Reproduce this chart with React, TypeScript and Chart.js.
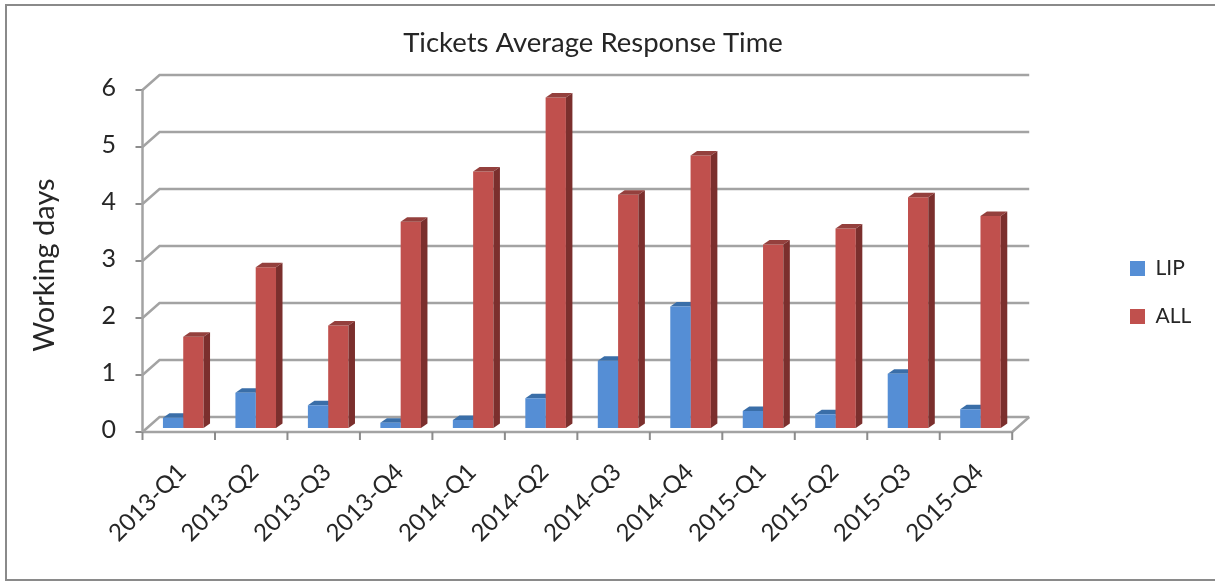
import React, { useEffect, useRef } from "react";
import { Chart, registerables } from "chart.js";

Chart.register(...registerables);

const categories = [
  "2013-Q1", "2013-Q2", "2013-Q3", "2013-Q4",
  "2014-Q1", "2014-Q2", "2014-Q3", "2014-Q4",
  "2015-Q1", "2015-Q2", "2015-Q3", "2015-Q4",
];
const lipValues = [0.18, 0.62, 0.4, 0.09, 0.14, 0.52, 1.18, 2.13, 0.3, 0.24, 0.95, 0.33];
const allValues = [1.6, 2.82, 1.8, 3.62, 4.5, 5.8, 4.09, 4.78, 3.22, 3.5, 4.05, 3.72];
const yTicks = [0, 1, 2, 3, 4, 5, 6];

const FONT = "Lato, 'Open Sans', sans-serif";
const TEXT = "#262626";
const GRID = "#a3a3a3";

// Offsets from the plane the bars stand on to the front edge and back wall of the box.
const FRONT = { x: -4.5, y: 4 };
const BACK = { x: 12.5, y: -11 };
const BAR_DEPTH = { x: 6.5, y: -4.5 };

const shades = [
  { top: "#3a6ea8", side: "#2f5f97" },
  { top: "#94403d", side: "#7b2f2d" },
];

const line = (ctx: CanvasRenderingContext2D, pts: number[][], color: string, width: number) => {
  ctx.strokeStyle = color;
  ctx.lineWidth = width;
  ctx.beginPath();
  pts.forEach(([x, y], i) => (i ? ctx.lineTo(x, y) : ctx.moveTo(x, y)));
  ctx.stroke();
};

const poly = (ctx: CanvasRenderingContext2D, pts: number[][], color: string) => {
  ctx.fillStyle = color;
  ctx.beginPath();
  pts.forEach(([x, y], i) => (i ? ctx.lineTo(x, y) : ctx.moveTo(x, y)));
  ctx.closePath();
  ctx.fill();
};

// Top and side faces of every bar in one series.
const paintFaces = (chart: any, index: number) => {
  const { ctx } = chart;
  const shade = shades[index];
  const dx = BAR_DEPTH.x;
  const dy = BAR_DEPTH.y;
  ctx.save();
  chart.getDatasetMeta(index).data.forEach((bar: any) => {
    const { x, y, base, width } = bar.getProps(["x", "y", "base", "width"], true);
    const l = x - width / 2;
    const r = x + width / 2;
    poly(ctx, [[l, y], [l + dx, y + dy], [r + dx, y + dy], [r, y]], shade.top);
    poly(ctx, [[r, y], [r + dx, y + dy], [r + dx, base + dy], [r, base]], shade.side);
  });
  ctx.restore();
};

// Outer frame, box walls, grid lines, tick marks, bar depth and the rotated axis caption.
const boxPlugin = {
  id: "box3d",
  afterLayout(chart: any) {
    chart.titleBlock.left = 0;
    chart.titleBlock.right = 1186;
    chart.legend.left = 1103;
    chart.legend.right = 1215;
    chart.legend.top += 2;
    chart.legend.bottom += 2;
  },
  beforeDraw(chart: any) {
    const { ctx, scales } = chart;
    const { x: xs, y: ys } = scales;
    ctx.save();
    ctx.strokeStyle = "#8a8a8a";
    ctx.lineWidth = 2;
    ctx.strokeRect(6, 5, 1225, 575);

    const fl = xs.left + FRONT.x;
    const fr = xs.right + FRONT.x;
    const bl = xs.left + BACK.x;
    const br = xs.right + BACK.x;
    const y0 = ys.getPixelForValue(0);
    const y6 = ys.getPixelForValue(6);

    yTicks.forEach((v) => {
      const y = ys.getPixelForValue(v);
      line(ctx, [[fl, y + FRONT.y], [bl, y + BACK.y], [br, y + BACK.y]], GRID, 2.5);
      line(ctx, [[fl - 7, y + FRONT.y], [fl, y + FRONT.y]], "#8c8c8c", 2);
    });
    line(ctx, [[fl, y6 + FRONT.y], [fl, y0 + FRONT.y]], GRID, 2.5);
    line(ctx, [[fl, y0 + FRONT.y], [fr, y0 + FRONT.y], [br, y0 + BACK.y]], GRID, 2.5);
    categories.forEach((_, i) => {
      const x = fl + ((fr - fl) * i) / categories.length;
      line(ctx, [[x, y0 + FRONT.y], [x, y0 + FRONT.y + 8]], "#8c8c8c", 2);
    });
    line(ctx, [[fr, y0 + FRONT.y], [fr, y0 + FRONT.y + 8]], "#8c8c8c", 2);

    ctx.translate(45, 265);
    ctx.rotate(-Math.PI / 2);
    ctx.fillStyle = TEXT;
    ctx.font = `29px ${FONT}`;
    ctx.textAlign = "center";
    ctx.textBaseline = "middle";
    ctx.fillText("Working days", 0, 0);
    ctx.restore();
  },
  // LIP is painted above ALL, so its faces go down first and ALL's front hides their right part.
  beforeDatasetsDraw(chart: any) {
    paintFaces(chart, 0);
  },
  afterDatasetDraw(chart: any, args: any) {
    if (args.index === 1) paintFaces(chart, 1);
  },
};

export default function App() {
  const ref = useRef<HTMLCanvasElement>(null);

  useEffect(() => {
    document.body.style.margin = "0";
    const chart = new Chart(ref.current!, {
      type: "bar",
      data: {
        labels: categories,
        datasets: [
          { label: "LIP", data: lipValues, backgroundColor: "#558ed5" },
          { label: "ALL", data: allValues, backgroundColor: "#c0504d" },
        ],
      },
      options: {
        responsive: false,
        animation: false,
        layout: { padding: { left: 0, top: 0, bottom: 0, right: 100 } },
        plugins: {
          title: {
            display: true,
            text: "Tickets Average Response Time",
            color: TEXT,
            font: { family: FONT, size: 27.5, weight: "normal" },
            padding: { top: 27, bottom: 26 },
          },
          legend: {
            position: "right",
            labels: {
              boxWidth: 15,
              boxHeight: 15,
              padding: 27,
              color: TEXT,
              font: { family: FONT, size: 21 },
            },
          },
          tooltip: { enabled: false },
        },
        datasets: { bar: { categoryPercentage: 0.56, barPercentage: 1, borderWidth: 0 } },
        scales: {
          x: {
            grid: { display: false },
            border: { display: false },
            ticks: {
              color: TEXT,
              font: { family: FONT, size: 24 },
              minRotation: 45,
              maxRotation: 45,
              padding: 22,
              labelOffset: -1,
              autoSkip: false,
            },
            afterFit: (s: any) => { s.height = 153; },
          },
          y: {
            min: 0,
            max: 6,
            grid: { display: false },
            border: { display: false },
            afterBuildTicks: (s: any) => { s.ticks = yTicks.map((value) => ({ value })); },
            ticks: {
              color: TEXT,
              font: { family: FONT, size: 25 },
              padding: 23,
              labelOffset: 2,
            },
            afterFit: (s: any) => { s.width = 147; },
          },
        },
      },
      plugins: [boxPlugin],
    } as any);
    return () => chart.destroy();
  }, []);

  return (
    <div style={{ position: "relative", width: 1215, height: 581, background: "#fff" }}>
      <canvas ref={ref} width={1215} height={581} style={{ display: "block" }} />
    </div>
  );
}
